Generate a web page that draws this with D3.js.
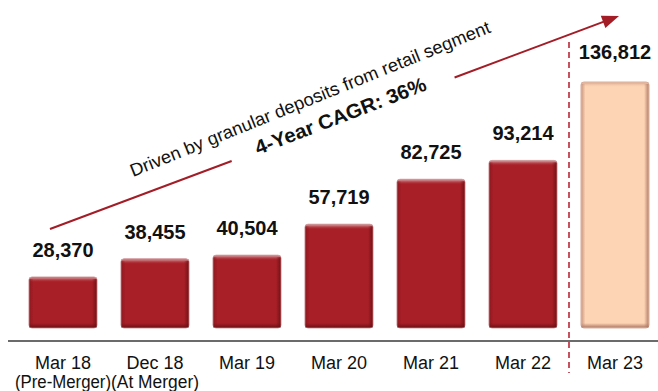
<!DOCTYPE html>
<html>
<head>
<meta charset="utf-8">
<script src="https://cdn.jsdelivr.net/npm/d3@7"></script>
<style>
html,body{margin:0;padding:0;background:#fff;}
svg{display:block;font-family:"Liberation Sans",Arial,sans-serif;}
</style>
</head>
<body>
<svg id="chart" width="658" height="391"></svg>
<script>
const categories = ["Mar 18", "Dec 18", "Mar 19", "Mar 20", "Mar 21", "Mar 22", "Mar 23"];
const subLabels = ["(Pre-Merger)", "(At Merger)", "", "", "", "", ""];
const values = [28370, 38455, 40504, 57719, 82725, 93214, 136812];
const valueLabels = ["28,370", "38,455", "40,504", "57,719", "82,725", "93,214", "136,812"];
const highlight = [false, false, false, false, false, false, true];
const annotationText = "Driven by granular deposits from retail segment";
const cagrText = "4-Year CAGR: 36%";

const svg = d3.select("#chart");
const baseY = 328;

const x = d3.scaleBand().domain(categories).range([17, 661]).paddingInner(0.26).paddingOuter(0.13);
const y = d3.scaleLinear().domain([0, 150000]).range([baseY, baseY - 150000 * 0.0017981]);

const defs = svg.append("defs");
function vgrad(id, c1, o1, c2, o2) {
  const g = defs.append("linearGradient").attr("id", id).attr("x1", 0).attr("y1", 0).attr("x2", 0).attr("y2", 1);
  g.append("stop").attr("offset", 0).attr("stop-color", c1).attr("stop-opacity", o1);
  g.append("stop").attr("offset", 1).attr("stop-color", c2).attr("stop-opacity", o2);
}
function hgrad(id, c1, o1, c2, o2) {
  const g = defs.append("linearGradient").attr("id", id).attr("x1", 0).attr("y1", 0).attr("x2", 1).attr("y2", 0);
  g.append("stop").attr("offset", 0).attr("stop-color", c1).attr("stop-opacity", o1);
  g.append("stop").attr("offset", 1).attr("stop-color", c2).attr("stop-opacity", o2);
}
// red bevel
vgrad("rTop", "#d49a9d", 1, "#a81f27", 0);
vgrad("rBot", "#6a0f14", 0, "#6a0f14", 0.9);
hgrad("rLeft", "#7d151b", 0.6, "#7d151b", 0);
hgrad("rRight", "#6a0f14", 0, "#6a0f14", 0.8);
// peach bevel
vgrad("pTop", "#d8a48f", 1, "#fdd5b4", 0);
vgrad("pBot", "#a8705e", 0, "#a8705e", 0.9);
hgrad("pLeft", "#c08a76", 0.8, "#c08a76", 0);
hgrad("pRight", "#b07a66", 0, "#b07a66", 0.9);

const data = categories.map((c, i) => ({c, v: values[i], lab: valueLabels[i], sub: subLabels[i], hi: highlight[i]}));

const bars = svg.append("g").selectAll("g").data(data).join("g");
bars.each(function(d) {
  const g = d3.select(this);
  const bx = x(d.c), bw = x.bandwidth(), by = y(d.v), bh = baseY - y(d.v);
  const p = d.hi ? "p" : "r";
  g.append("rect").attr("x", bx).attr("y", by).attr("width", bw).attr("height", bh)
    .attr("rx", 3).attr("fill", d.hi ? "#fdd5b4" : "#a81f27")
    .attr("stroke", d.hi ? "#d9b3a3" : "#d2a3a5").attr("stroke-width", 1);
  g.append("rect").attr("x", bx + 0.5).attr("y", by + 0.5).attr("width", bw - 1).attr("height", 5).attr("fill", `url(#${p}Top)`);
  g.append("rect").attr("x", bx + 0.5).attr("y", by + bh - 5).attr("width", bw - 1).attr("height", 4.5).attr("fill", `url(#${p}Bot)`);
  g.append("rect").attr("x", bx + 0.5).attr("y", by + 2).attr("width", 4).attr("height", bh - 3).attr("fill", `url(#${p}Left)`);
  g.append("rect").attr("x", bx + bw - 5).attr("y", by + 2).attr("width", 4.5).attr("height", bh - 3).attr("fill", `url(#${p}Right)`);
});

// value labels
svg.append("g").selectAll("text").data(data).join("text")
  .attr("x", d => x(d.c) + x.bandwidth() / 2)
  .attr("y", d => y(d.v) - (d.hi ? 23 : 20))
  .attr("text-anchor", "middle")
  .attr("font-size", 20).attr("font-weight", "bold").attr("fill", "#111")
  .text(d => d.lab);

// axis
const axisY = 341;
const axis = svg.append("g").attr("transform", `translate(0,${axisY})`)
  .call(d3.axisBottom(x).tickSize(0).tickPadding(0));
axis.select(".domain").remove();
axis.selectAll(".tick text").remove();
svg.append("line").attr("x1", 8).attr("x2", 658).attr("y1", axisY).attr("y2", axisY)
  .attr("stroke", "#3a3a3a").attr("stroke-width", 1.5);
const subWidths = [96, 88];
axis.selectAll(".tick").each(function(c, i) {
  const t = d3.select(this);
  t.append("text").attr("y", 28).attr("text-anchor", "middle").attr("font-size", 18)
    .attr("fill", "#111").text(c);
  if (subLabels[i]) {
    t.append("text").attr("y", 47).attr("text-anchor", "middle").attr("font-size", 17.5)
      .attr("textLength", subWidths[i]).attr("lengthAdjust", "spacingAndGlyphs")
      .attr("fill", "#111").text(subLabels[i]);
  }
});

// dashed separator
const sepX = (x("Mar 22") + x.bandwidth() + x("Mar 23")) / 2;
svg.append("line").attr("x1", sepX).attr("x2", sepX).attr("y1", 42).attr("y2", 373)
  .attr("stroke", "#c9505f").attr("stroke-width", 2).attr("stroke-dasharray", "6,4");

// growth arrow
const a0 = [50, 229], a1 = [619, 16];
const lerp = t => [a0[0] + (a1[0] - a0[0]) * t, a0[1] + (a1[1] - a0[1]) * t];
const len = Math.hypot(a1[0] - a0[0], a1[1] - a0[1]);
const ang = Math.atan2(a1[1] - a0[1], a1[0] - a0[0]);
const gapStart = 194 / len, gapEnd = 432 / len, headLen = 17;
const arrowColor = "#a31d26";
const s1 = lerp(0), s2 = lerp(gapStart), s3 = lerp(gapEnd), s4 = lerp(1 - headLen / len + 0.005);
svg.append("line").attr("x1", s1[0]).attr("y1", s1[1]).attr("x2", s2[0]).attr("y2", s2[1])
  .attr("stroke", arrowColor).attr("stroke-width", 2);
svg.append("line").attr("x1", s3[0]).attr("y1", s3[1]).attr("x2", s4[0]).attr("y2", s4[1])
  .attr("stroke", arrowColor).attr("stroke-width", 2);
svg.append("path")
  .attr("transform", `translate(${a1[0]},${a1[1]}) rotate(${ang * 180 / Math.PI})`)
  .attr("d", `M0,0 L${-headLen},-6.5 L${-headLen},6.5 Z`)
  .attr("fill", arrowColor);

// annotations
svg.append("text").attr("transform", "translate(133,177) rotate(-22)")
  .attr("font-size", 18).attr("textLength", 387).attr("lengthAdjust", "spacingAndGlyphs")
  .attr("fill", "#111").text(annotationText);
svg.append("text").attr("transform", "translate(258,155) rotate(-21)")
  .attr("font-size", 20).attr("font-weight", "bold").attr("textLength", 182).attr("lengthAdjust", "spacingAndGlyphs")
  .attr("fill", "#111").text(cagrText);
</script>
</body>
</html>
